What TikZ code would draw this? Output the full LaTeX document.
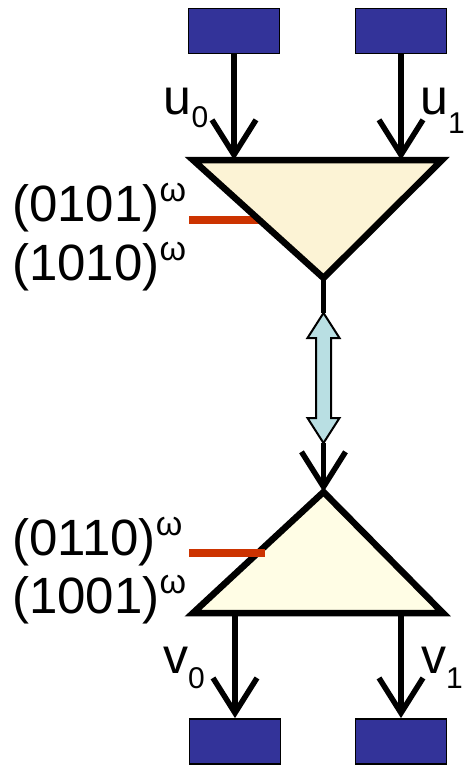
\documentclass[tikz,border=0pt]{standalone}
\usepackage{fontspec}
\setmainfont{Liberation Sans}
\usetikzlibrary{arrows.meta}
\definecolor{boxblue}{HTML}{333399}
\definecolor{topfill}{HTML}{FCF3D5}
\definecolor{botfill}{HTML}{FFFDE5}
\definecolor{redline}{HTML}{CC3300}
\definecolor{dblblue}{HTML}{B9DFE3}
\begin{document}
\begin{tikzpicture}[x=1pt,y=-1pt,
  box/.style={draw=black, line width=1.8pt, fill=boxblue, minimum width=91pt, minimum height=45pt, inner sep=0pt},
  flow/.style={line width=5.5pt, -{Straight Barb[length=35pt,width=44pt,line width=5.5pt]}},
  tri/.style={draw=black, line width=6.5pt, line join=miter},
  mark line/.style={draw=redline, line width=8.5pt},
  seq/.style={inner sep=0pt, anchor=base west, font=\fontsize{51}{51}\selectfont},
  var/.style={inner sep=0pt, anchor=base west, font=\fontsize{50}{50}\selectfont},
]
\useasboundingbox (0,0) rectangle (468,765);
% boxes
\node[box] (in0) at (234,31) {};
\node[box] (in1) at (401,31) {};
\node[box] (out0) at (235,741.5) {};
\node[box] (out1) at (401,741.5) {};
% top triangle
\coordinate (tA) at (193,160);
\coordinate (tB) at (442,160);
\coordinate (tC) at (323.5,278);
\coordinate (ti0) at (234,160);
\coordinate (ti1) at (401,160);
% bottom triangle
\coordinate (bA) at (323.5,492);
\coordinate (bB) at (193,613);
\coordinate (bC) at (443,613);
\coordinate (bo0) at (235,613);
\coordinate (bo1) at (401,613);
% red mark top (under triangle)
\coordinate (r1a) at (189,220);
\coordinate (r1b) at (260,220);
\draw[mark line] (r1a) -- (r1b);
\filldraw[tri, fill=topfill] (tA) -- (tB) -- (tC) -- cycle;
\filldraw[tri, fill=botfill] (bA) -- (bB) -- (bC) -- cycle;
\coordinate (r2a) at (189,553);
\coordinate (r2b) at (265,553);
\draw[mark line] (r2a) -- (r2b);
% input/output arrows
\draw[flow] (in0.south) -- (ti0);
\draw[flow] (in1.south) -- (ti1);
\draw[flow] (bo0) -- (out0.north);
\draw[flow] (bo1) -- (out1.north);
% connection with double arrow
\coordinate (dTop) at (323.5,313);
\coordinate (dBot) at (323.5,443);
\draw[line width=5.5pt] (tC) -- (dTop);
\draw[flow] (dBot) -- (bA);
\filldraw[draw=black, line width=2pt, fill=dblblue, line join=miter]
  (dTop) -- ++(16,25) -- ++(-8.5,0) -- ++(0,80) -- ++(8.5,0)
  -- (dBot) -- ++(-16,-25) -- ++(8.5,0) -- ++(0,-80) -- ++(-8.5,0) -- cycle;
% sequence labels
\node[seq] (s1) at (12,221.7) {(0101)\raisebox{20pt}{\fontsize{34}{34}\selectfont ω}};
\node[seq] (s2) at (12,280) {(1010)\raisebox{20pt}{\fontsize{34}{34}\selectfont ω}};
\node[seq] (s3) at (12,555) {(0110)\raisebox{20pt}{\fontsize{34}{34}\selectfont ω}};
\node[seq] (s4) at (12,613) {(1001)\raisebox{20pt}{\fontsize{34}{34}\selectfont ω}};
% variable labels
\node[var] (u0) at (163.5,115) {u\raisebox{-13pt}{\fontsize{30}{30}\selectfont 0}};
\node[var] (u1) at (420,115) {u\raisebox{-18pt}{\fontsize{30}{30}\selectfont 1}};
\node[var] (v0) at (163,673) {v\raisebox{-15pt}{\fontsize{30}{30}\selectfont 0}};
\node[var] (v1) at (421,673) {v\raisebox{-15pt}{\fontsize{30}{30}\selectfont 1}};
\end{tikzpicture}
\end{document}
